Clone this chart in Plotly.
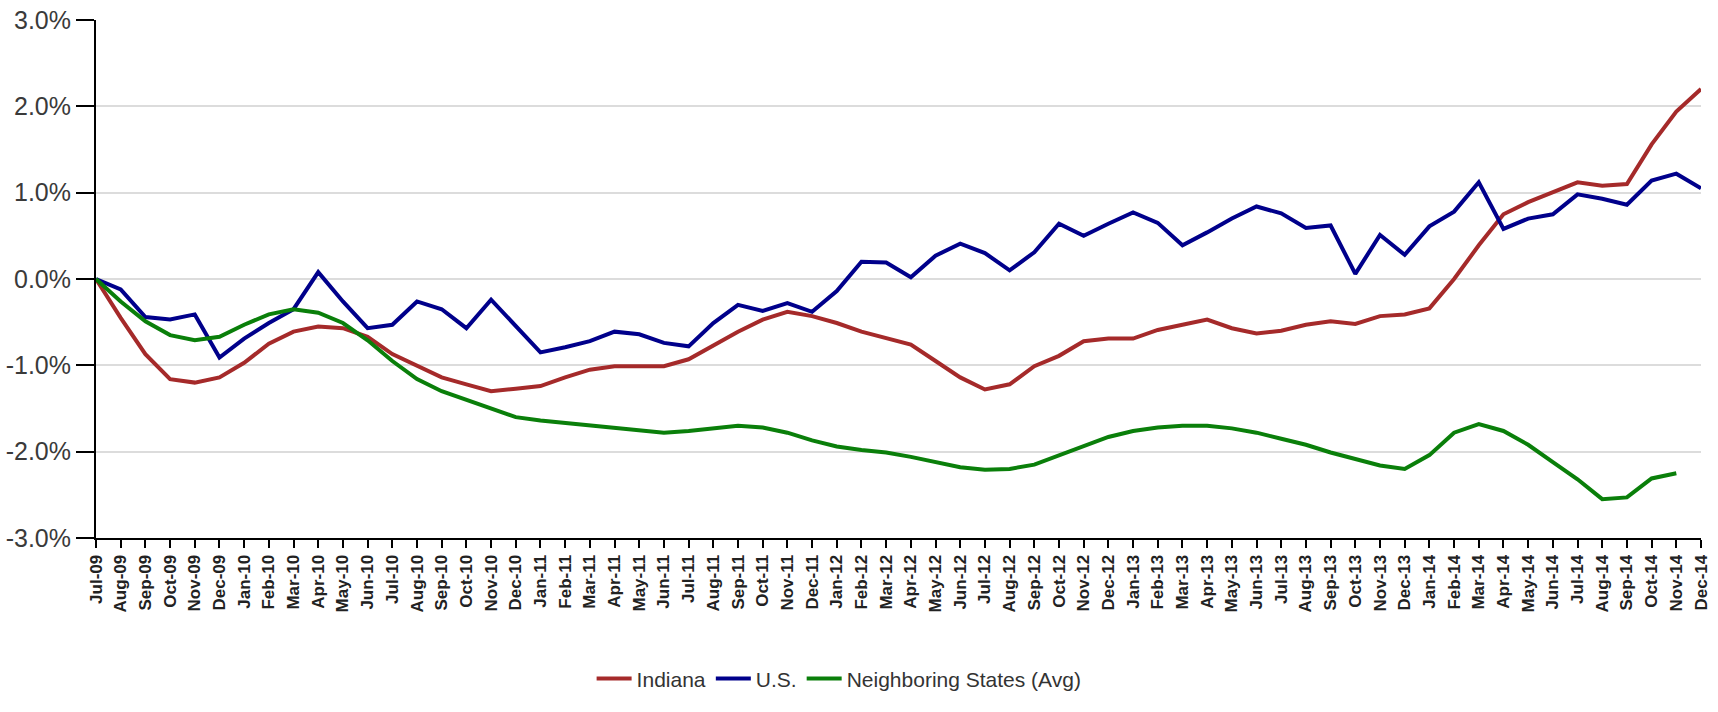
import plotly.graph_objects as go

months = ["Jul-09","Aug-09","Sep-09","Oct-09","Nov-09","Dec-09",
          "Jan-10","Feb-10","Mar-10","Apr-10","May-10","Jun-10","Jul-10","Aug-10","Sep-10","Oct-10","Nov-10","Dec-10",
          "Jan-11","Feb-11","Mar-11","Apr-11","May-11","Jun-11","Jul-11","Aug-11","Sep-11","Oct-11","Nov-11","Dec-11",
          "Jan-12","Feb-12","Mar-12","Apr-12","May-12","Jun-12","Jul-12","Aug-12","Sep-12","Oct-12","Nov-12","Dec-12",
          "Jan-13","Feb-13","Mar-13","Apr-13","May-13","Jun-13","Jul-13","Aug-13","Sep-13","Oct-13","Nov-13","Dec-13",
          "Jan-14","Feb-14","Mar-14","Apr-14","May-14","Jun-14","Jul-14","Aug-14","Sep-14","Oct-14","Nov-14","Dec-14"]

indiana = [0.00,-0.45,-0.87,-1.16,-1.20,-1.14,
           -0.97,-0.75,-0.61,-0.55,-0.57,-0.67,-0.87,-1.01,-1.14,-1.22,-1.30,-1.27,
           -1.24,-1.14,-1.05,-1.01,-1.01,-1.01,-0.93,-0.77,-0.61,-0.47,-0.38,-0.43,
           -0.51,-0.61,-0.68,-0.76,-0.95,-1.14,-1.28,-1.22,-1.01,-0.89,-0.72,-0.69,
           -0.69,-0.59,-0.53,-0.47,-0.57,-0.63,-0.60,-0.53,-0.49,-0.52,-0.43,-0.41,
           -0.34,0.00,0.39,0.75,0.89,1.01,1.12,1.08,1.10,1.56,1.94,2.20]

us = [0.00,-0.12,-0.44,-0.47,-0.41,-0.91,
      -0.69,-0.51,-0.35,0.08,-0.26,-0.57,-0.53,-0.26,-0.35,-0.57,-0.24,-0.55,
      -0.85,-0.79,-0.72,-0.61,-0.64,-0.74,-0.78,-0.51,-0.30,-0.37,-0.28,-0.38,
      -0.14,0.20,0.19,0.02,0.27,0.41,0.30,0.10,0.31,0.64,0.50,0.64,
      0.77,0.65,0.39,0.54,0.70,0.84,0.76,0.59,0.62,0.06,0.51,0.28,
      0.61,0.78,1.12,0.58,0.70,0.75,0.98,0.93,0.86,1.14,1.22,1.05]

neighbors = [0.00,-0.26,-0.49,-0.65,-0.71,-0.67,
             -0.53,-0.41,-0.35,-0.39,-0.51,-0.71,-0.95,-1.16,-1.30,-1.40,-1.50,-1.60,
             -1.64,-1.67,-1.69,-1.72,-1.76,-1.78,-1.76,-1.73,-1.70,-1.72,-1.78,-1.87,
             -1.94,-1.98,-2.01,-2.06,-2.12,-2.18,-2.21,-2.20,-2.15,-2.04,-1.93,-1.83,
             -1.76,-1.72,-1.70,-1.70,-1.73,-1.78,-1.85,-1.92,-2.01,-2.09,-2.16,-2.20,
             -2.04,-1.78,-1.68,-1.76,-1.92,-2.12,-2.32,-2.55,-2.53,-2.31,-2.25,None]

y_ticks = [-3, -2, -1, 0, 1, 2, 3]
y_tick_text = ["-3.0%", "-2.0%", "-1.0%", "0.0%", "1.0%", "2.0%", "3.0%"]

series = [("Indiana", indiana, "#A52A2A"),
          ("U.S.", us, "#00008B"),
          ("Neighboring States (Avg)", neighbors, "#0A7F0A")]

fig = go.Figure()
for name, vals, color in series:
    fig.add_trace(go.Scatter(x=months, y=vals, name=name, mode="lines",
                             line=dict(color=color, width=4), connectgaps=False))

fig.update_layout(
    width=1718, height=712,
    margin=dict(l=96, r=17, t=20, b=163),
    paper_bgcolor="white", plot_bgcolor="white",
    font=dict(family="Liberation Sans, Arial, sans-serif", color="#222"),
    showlegend=True,
    legend=dict(orientation="h", x=0.463, xanchor="center", y=-0.272, yanchor="middle",
                font=dict(size=21, color="#333"), itemwidth=35, traceorder="normal"),
)
fig.update_xaxes(
    type="category", range=[0, len(months) - 1], automargin=False,
    showline=True, linecolor="black", linewidth=2,
    ticks="outside", ticklen=8, tickwidth=1.5, tickcolor="black",
    tickangle=-90, tickfont=dict(size=17, color="#222", family="Liberation Sans, Arial, sans-serif", weight="bold"),
    showgrid=False, tickmode="array", tickvals=months, ticktext=months,
)
fig.update_yaxes(
    range=[-3, 3], tickvals=y_ticks, ticktext=y_tick_text, automargin=False,
    showline=True, linecolor="black", linewidth=2,
    ticks="outside", ticklen=18, tickwidth=2, tickcolor="black",
    tickfont=dict(size=25, color="#3A3A3A"),
    showgrid=True, gridcolor="#DCDCDC", gridwidth=2, zeroline=False,
)

fig.write_html("out.html", config={"displayModeBar": False},
               post_script="document.body.style.margin='0';")
